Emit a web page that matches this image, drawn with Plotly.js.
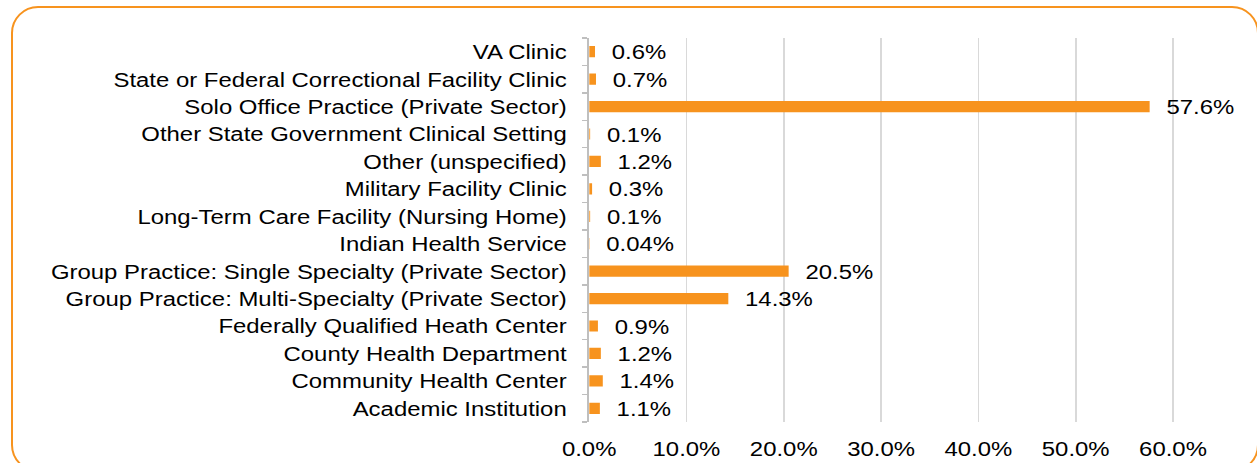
<!DOCTYPE html>
<html>
<head>
<meta charset="utf-8">
<script src="https://cdn.plot.ly/plotly-3.0.1.min.js"></script>
<style>
  html, body { margin:0; padding:0; background:#fff; overflow:hidden; width:1257px; height:463px; }
  #wrap { position:absolute; left:0; top:0; width:1103px; height:463px; transform:scaleX(1.1396); transform-origin:0 0; }
  #plot { width:1103px; height:463px; }
  #frame { position:absolute; left:11px; top:6px; width:1248px; height:466px; box-sizing:border-box;
           border:2px solid #F7931E; border-radius:27px; pointer-events:none; }
</style>
</head>
<body>
<div id="wrap"><div id="plot"></div></div>
<div id="frame"></div>
<script>
// Categories listed bottom-to-top (Plotly draws the first category at the bottom)
const categories = [
  "Academic Institution",
  "Community Health Center",
  "County Health Department",
  "Federally Qualified Heath Center",
  "Group Practice: Multi-Specialty (Private Sector)",
  "Group Practice: Single Specialty (Private Sector)",
  "Indian Health Service",
  "Long-Term Care Facility (Nursing Home)",
  "Military Facility Clinic",
  "Other (unspecified)",
  "Other State Government Clinical Setting",
  "Solo Office Practice (Private Sector)",
  "State or Federal Correctional Facility Clinic",
  "VA Clinic"
];
const shares = [0.011, 0.014, 0.012, 0.009, 0.143, 0.205, 0.0004, 0.001, 0.003, 0.012, 0.001, 0.576, 0.007, 0.006];
const valueLabels = ["1.1%", "1.4%", "1.2%", "0.9%", "14.3%", "20.5%", "0.04%", "0.1%", "0.3%", "1.2%", "0.1%", "57.6%", "0.7%", "0.6%"];
const xTickVals = [0, 0.1, 0.2, 0.3, 0.4, 0.5, 0.6];
const xTickText = ["0.0%", "10.0%", "20.0%", "30.0%", "40.0%", "50.0%", "60.0%"];

const FONT = '"Liberation Sans", Arial, sans-serif';
const ORANGE = '#F7931E';

const trace = {
  type: 'bar',
  orientation: 'h',
  x: shares,
  y: categories,
  marker: { color: ORANGE },
  text: valueLabels.map(t => '\u00A0\u00A0' + t),
  textposition: 'outside',
  constraintext: 'none',
  cliponaxis: false,
  textfont: { family: FONT, size: 21, color: '#000' },
  hoverinfo: 'none'
};

const layout = {
  width: 1103,
  height: 463,
  margin: { l: 516.5, r: 31, t: 38, b: 41, pad: 0 },
  paper_bgcolor: 'rgba(0,0,0,0)',
  plot_bgcolor: 'rgba(0,0,0,0)',
  showlegend: false,
  bargap: 0.59,
  font: { family: FONT, size: 21, color: '#000' },
  xaxis: {
    range: [0, 0.65],
    tickvals: xTickVals,
    ticktext: xTickText,
    showgrid: true,
    gridcolor: '#D9D9D9',
    gridwidth: 1.5,
    zeroline: false,
    showline: false,
    ticks: '',
    ticklabelstandoff: 12,
    tickfont: { family: FONT, size: 21, color: '#000' },
    fixedrange: true
  },
  yaxis: {
    type: 'category',
    showgrid: false,
    zeroline: false,
    showline: true,
    linecolor: '#BFBFBF',
    linewidth: 1.5,
    ticks: 'outside',
    tickson: 'boundaries',
    ticklen: 5,
    tickcolor: '#BFBFBF',
    tickwidth: 1.5,
    ticklabelstandoff: 14,
    tickfont: { family: FONT, size: 21, color: '#000' },
    fixedrange: true
  }
};

Plotly.newPlot('plot', [trace], layout, { displayModeBar: false, staticPlot: true });
</script>
</body>
</html>
